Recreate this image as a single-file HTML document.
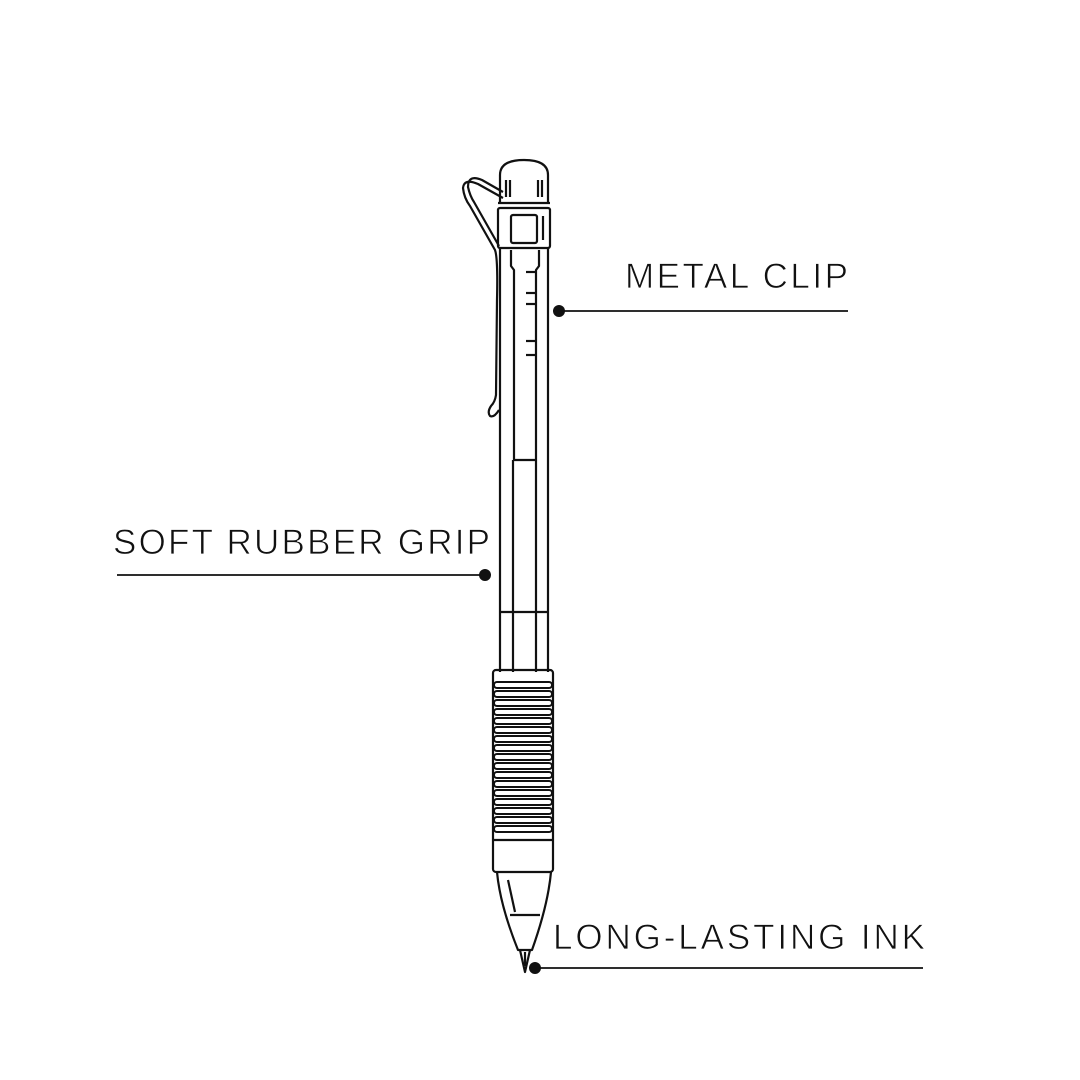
<!DOCTYPE html>
<html><head><meta charset="utf-8"><style>
html,body{margin:0;padding:0;background:#fff}
svg{display:block}
text{font-family:"Liberation Sans",sans-serif;font-size:35px;fill:#111;stroke:#fff;stroke-width:0.8px}
</style></head><body>
<svg width="1080" height="1080" viewBox="0 0 1080 1080" xmlns="http://www.w3.org/2000/svg">
<rect width="1080" height="1080" fill="#fff"/>
<g fill="none" stroke="#111" stroke-width="2.2" stroke-linejoin="round">
<path d="M503,198 L478,184 Q464,178 463,188 Q464,198 470,206 L495,250 Q498,258 497,300 L496,395 Q495,402 491,406 Q487,412 490,416 Q494,418 499,410"/>
<path d="M503,192 L482,180 Q468,174 468,187 Q470,196 474,202 L499,246"/>
<path d="M500,203 L500,175 Q500,160 524,160 Q548,160 548,175 L548,203"/>
<line x1="498" y1="203" x2="550" y2="203"/>
<line x1="506" y1="180" x2="506" y2="197"/><line x1="510" y1="180" x2="510" y2="197"/>
<line x1="538" y1="180" x2="538" y2="197"/><line x1="542" y1="180" x2="542" y2="197"/>
<rect x="498" y="208" width="52" height="40" rx="2"/>
<rect x="511" y="215" width="26" height="28" rx="2"/>
<line x1="543" y1="216" x2="543" y2="240"/>
<line x1="500" y1="248" x2="500" y2="672"/>
<line x1="548" y1="248" x2="548" y2="672"/>
<path d="M511,250 L511,266 L514,270 L514,460 L536,460 L536,270 L539,266 L539,250"/>
<line x1="526" y1="272" x2="537" y2="272"/><line x1="526" y1="293" x2="537" y2="293"/>
<line x1="526" y1="304" x2="537" y2="304"/><line x1="526" y1="341" x2="537" y2="341"/>
<line x1="526" y1="355" x2="537" y2="355"/>
<line x1="513" y1="460" x2="513" y2="672"/><line x1="536" y1="460" x2="536" y2="672"/>
<line x1="500" y1="612" x2="548" y2="612"/>
<rect x="493" y="670" width="60" height="202" rx="3"/>
<g stroke-width="2">
<rect x="494" y="682" width="58" height="6" rx="3"/>
<rect x="494" y="691" width="58" height="6" rx="3"/>
<rect x="494" y="700" width="58" height="6" rx="3"/>
<rect x="494" y="709" width="58" height="6" rx="3"/>
<rect x="494" y="718" width="58" height="6" rx="3"/>
<rect x="494" y="727" width="58" height="6" rx="3"/>
<rect x="494" y="736" width="58" height="6" rx="3"/>
<rect x="494" y="745" width="58" height="6" rx="3"/>
<rect x="494" y="754" width="58" height="6" rx="3"/>
<rect x="494" y="763" width="58" height="6" rx="3"/>
<rect x="494" y="772" width="58" height="6" rx="3"/>
<rect x="494" y="781" width="58" height="6" rx="3"/>
<rect x="494" y="790" width="58" height="6" rx="3"/>
<rect x="494" y="799" width="58" height="6" rx="3"/>
<rect x="494" y="808" width="58" height="6" rx="3"/>
<rect x="494" y="817" width="58" height="6" rx="3"/>
<rect x="494" y="826" width="58" height="6" rx="3"/>
</g>
<line x1="493" y1="840" x2="553" y2="840"/>
<path d="M497,872 Q500,905 518,950 L532,950 Q548,905 551,872"/>
<line x1="508" y1="880" x2="515" y2="912"/>
<line x1="510" y1="915" x2="540" y2="915"/>
<path d="M520,950 L525,972 L530,950"/>
<line x1="525" y1="952" x2="525" y2="966"/>
<line x1="559" y1="311" x2="848" y2="311" stroke-width="1.8"/>
<line x1="117" y1="575" x2="485" y2="575" stroke-width="1.8"/>
<line x1="535" y1="968" x2="923" y2="968" stroke-width="1.8"/>
</g>
<circle cx="559" cy="311" r="6" fill="#111"/>
<circle cx="485" cy="575" r="6" fill="#111"/>
<circle cx="535" cy="968" r="6" fill="#111"/>
<text x="625" y="288" textLength="223" lengthAdjust="spacing">METAL CLIP</text>
<text x="113" y="554" textLength="377" lengthAdjust="spacing">SOFT RUBBER GRIP</text>
<text x="553" y="949" textLength="372" lengthAdjust="spacing">LONG-LASTING INK</text>
</svg>
</body></html>
